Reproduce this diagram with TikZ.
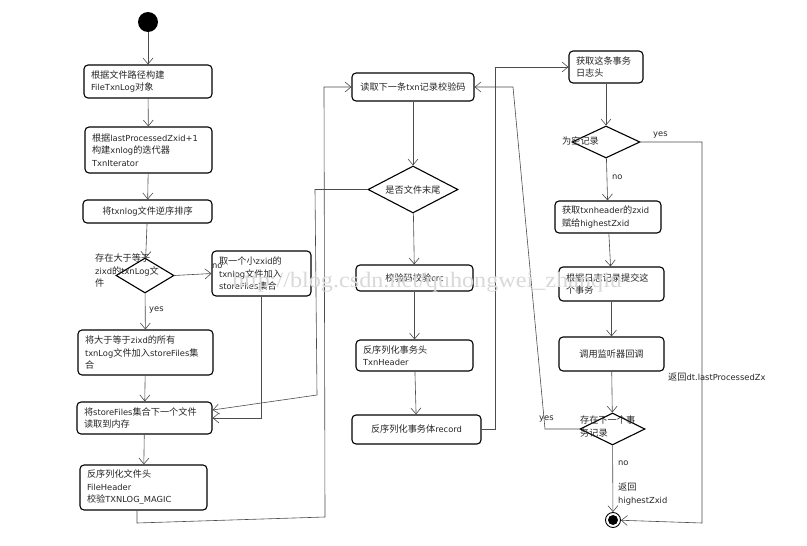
\documentclass[tikz,border=0pt]{standalone}
\usepackage{fontspec}
\setmainfont[Scale=0.98]{DejaVu Sans}
\newfontfamily\latf[Scale=0.98]{DejaVu Sans}
\newfontfamily\cjkf[Scale=1.08]{Noto Sans CJK SC}
\newfontfamily\wmfont{Liberation Serif}
\lefthyphenmin=64
\XeTeXinterchartokenstate=1
\newXeTeXintercharclass\CJKcls
\makeatletter
\count@="3000
\loop \XeTeXcharclass\count@=\CJKcls \ifnum\count@<"9FFF \advance\count@ 1 \repeat
\count@="FF00
\loop \XeTeXcharclass\count@=\CJKcls \ifnum\count@<"FFEF \advance\count@ 1 \repeat
\makeatother
\XeTeXinterchartoks 0 \CJKcls = {\cjkf}
\XeTeXinterchartoks 4095 \CJKcls = {\cjkf}
\XeTeXinterchartoks \CJKcls 0 = {\latf}
\XeTeXinterchartoks \CJKcls 4095 = {\latf}
\usetikzlibrary{arrows.meta,shapes.geometric}
\begin{document}
\begin{tikzpicture}[x=1pt,y=-1pt,
  box/.style={draw=black, line width=1.1pt, rounded corners=4pt, fill=white, inner xsep=7pt, inner ysep=1pt, text=black!85, font=\fontsize{8.5}{12.5}\selectfont},
  dia/.style={draw=black, line width=1.1pt, diamond, fill=white, inner sep=0pt},
  arr/.style={draw=black!70, line width=0.6pt, -{Straight Barb[length=6pt,width=10pt]}},
  lbl/.style={font=\fontsize{8.5}{12.5}\selectfont, text=black!85, inner sep=0pt}
]
\useasboundingbox (0,0) rectangle (807,546);
\fill[white] (0,0) rectangle (807,546);

% left column
\node[circle, fill=black, minimum size=20pt, inner sep=0pt] (s) at (148,22) {};
\node[box, minimum width=128pt, minimum height=33pt, text width=114pt, align=left] (A) at (148,81.5) {根据文件路径构建\\FileTxnLog对象};
\node[box, minimum width=127pt, minimum height=46pt, text width=113pt, align=left] (B) at (148.5,150) {根据lastProcessedZxid+1\\构建xnlog的迭代器\\TxnIterator};
\node[box, minimum width=129pt, minimum height=23pt, text width=115pt, align=center] (C) at (147.5,211.5) {将txnlog文件逆序排序};
\node[dia, minimum width=58pt, minimum height=35pt] (D1) at (145,275.5) {};
\node[lbl, anchor=north west, align=left] (D1t) at (95,254) {存在大于等于\\zixd的txnLog文\\件};
\node[box, minimum width=99pt, minimum height=45pt, text width=85pt, align=left] (E) at (261.5,273.5) {取一个小zxid的\\txnlog文件加入\\storeFiles集合};
\node[box, minimum width=135pt, minimum height=45pt, text width=121pt, align=left] (F) at (145.5,352.5) {将大于等于zixd的所有\\txnLog文件加入storeFiles集\\合};
\node[box, minimum width=135pt, minimum height=32pt, text width=121pt, align=left] (G) at (144.5,418) {将storeFiles集合下一个文件\\读取到内存};
\node[box, minimum width=127pt, minimum height=45pt, text width=113pt, align=left] (H) at (143.5,487.5) {反序列化文件头\\FileHeader\\校验TXNLOG\_MAGIC};

% middle column
\node[box, minimum width=122pt, minimum height=28pt, text width=108pt, align=center] (I) at (413,87) {读取下一条txn记录校验码};
\node[dia, minimum width=90pt, minimum height=47pt] (D2) at (413,189.5) {};
\node[lbl] (D2t) at (413,190) {是否文件末尾};
\node[box, minimum width=117pt, minimum height=26pt, text width=103pt, align=center] (J) at (414.5,278) {校验码校验crc};
\node[box, minimum width=117pt, minimum height=31pt, text width=103pt, align=left] (K) at (414.5,355.5) {反序列化事务头\\TxnHeader};
\node[box, minimum width=129pt, minimum height=29pt, text width=115pt, align=center] (L) at (416.5,429.5) {反序列化事务体record};

% right column
\node[box, minimum width=74pt, minimum height=32pt, text width=60pt, align=left] (M) at (606,67) {获取这条事务\\日志头};
\node[dia, minimum width=68pt, minimum height=32pt] (D3) at (606,142) {};
\node[lbl, anchor=west] (D3t) at (562,141) {为空记录};
\node[box, minimum width=106pt, minimum height=32pt, text width=92pt, align=left] (N) at (608,217) {获取txnheader的zxid\\赋给highestZxid};
\node[box, minimum width=105pt, minimum height=34pt, text width=91pt, align=left] (O) at (611.5,284) {根据日志记录提交这\\个事务};
\node[box, minimum width=105pt, minimum height=34pt, text width=91pt, align=center] (P) at (611.5,354) {调用监听器回调};
\node[dia, minimum width=65pt, minimum height=32pt] (D4) at (612.5,429) {};
\node[lbl, anchor=north west, align=left] (D4t) at (580,416) {存在下一个事\\务记录};
\node[circle, draw=black, line width=0.9pt, fill=white, minimum size=15pt, inner sep=0pt,
  path picture={\fill[black] (path picture bounding box.center) circle (5pt);}] (end) at (613,520) {};

% connectors
\draw[arr] (s) -- (A);
\draw[arr] (A) -- (B);
\draw[arr] (B) -- (C);
\draw[arr] (C) -- (D1);
\draw[arr] (D1) -- (F);
\draw[arr] (D1.east) -- (E.west);
\draw[arr] (F) -- (G);
\draw[arr] (G) -- (H);
\draw[arr] (E.south) |- (G.east);
\draw[arr] (D2.west) -- (315,189.5) -- (317,395) -- ([yshift=8pt]G.east);
\draw[arr] ([xshift=-6.5pt]H.south) -- (137,523) -- (325,517) -- (324,87) -- (I.west);
\draw[arr] (I) -- (D2);
\draw[arr] (D2) -- (J);
\draw[arr] (J) -- (K);
\draw[arr] (K) -- (L);
\draw[arr] (L.east) -- (495,429.5) -- (495,67) -- (M.west);
\draw[arr] (M) -- (D3);
\draw[arr] (D3) -- (N);
\draw[arr] (N) -- (O);
\draw[arr] (O) -- (P);
\draw[arr] (P) -- (D4);
\draw[arr] (D4) -- (end);
\draw[arr] (D4.west) -- (545,429) -- (513,87) -- (I.east);
\draw[arr] (D3.east) -- (702,142) -- (702,523) -- (end);

% labels
\node[lbl, anchor=west] (l1) at (212,266) {no};
\node[lbl, anchor=west] (l2) at (149,310) {yes};
\node[lbl, anchor=west] (l3) at (653,135) {yes};
\node[lbl, anchor=west] (l4) at (612,177) {no};
\node[lbl, anchor=west] (l5) at (668,377) {返回dt.lastProcessedZx};
\node[lbl, anchor=west] (l6) at (539,419) {yes};
\node[lbl, anchor=west] (l7) at (618,463) {no};
\node[lbl, anchor=north west, align=left] (l8) at (618,483) {返回\\highestZxid};

% watermark
\node[anchor=base west, inner sep=0pt, text=black!15] (wm) at (232,287) {\scalebox{1.1}[1]{\wmfont\fontsize{22}{22}\selectfont http://blog.csdn.net/quhongwei\_zhanqiu}};
\end{tikzpicture}
\end{document}
